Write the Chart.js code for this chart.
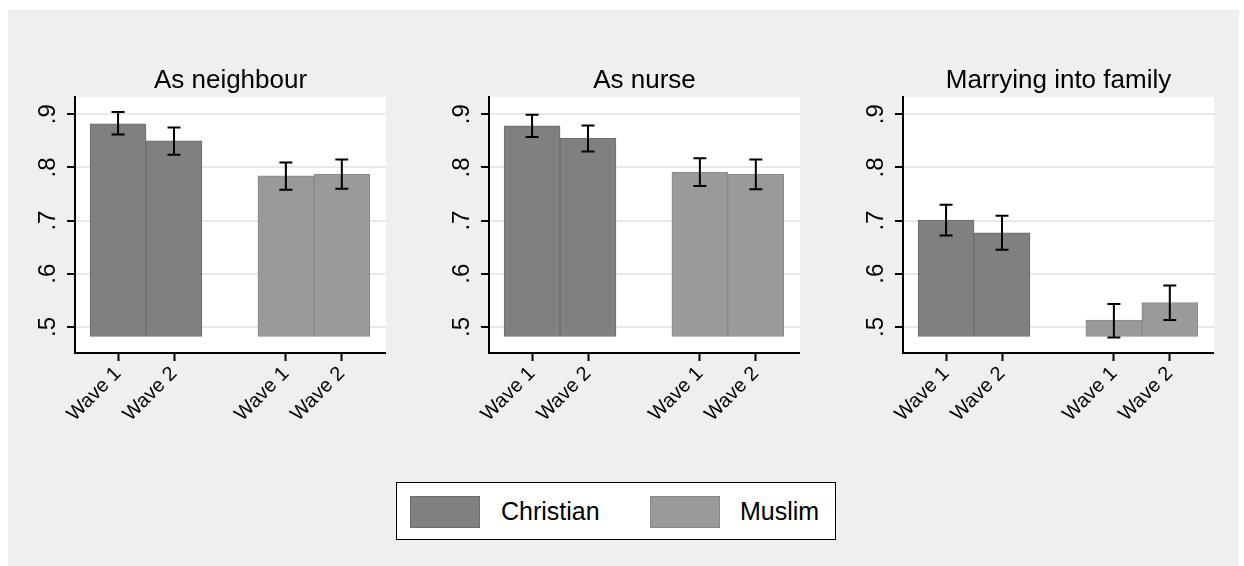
<!DOCTYPE html>
<html>
<head>
<meta charset="utf-8">
<script src="https://cdn.jsdelivr.net/npm/chart.js@4.4.1/dist/chart.umd.min.js"></script>
<style>
  body { margin: 0; background: #ffffff; width: 1244px; height: 566px; overflow: hidden; position: relative; font-family: "Liberation Sans", Arial, sans-serif; }
  #frame { position: absolute; left: 8px; top: 10px; width: 1231px; height: 556px; background: #efefef; }
  canvas.panel { position: absolute; top: 60px; }
  #legend { position: absolute; left: 396px; top: 482px; width: 438px; height: 56px; background: #fff; border: 1.5px solid #000; }
  .sw { position: absolute; top: 13px; width: 70px; height: 32px; box-sizing: border-box; }
  .lt { position: absolute; top: 12px; font-size: 25px; line-height: 32px; color: #000; }
</style>
</head>
<body>
<div id="frame"></div>
<canvas class="panel" id="p0" width="371" height="400" style="left:15px"></canvas>
<canvas class="panel" id="p1" width="371" height="400" style="left:429px"></canvas>
<canvas class="panel" id="p2" width="371" height="400" style="left:843px"></canvas>
<div id="legend">
  <div class="sw" style="left:13px;background:#808080;border:1px solid #6c6c6c"></div>
  <div class="lt" style="left:104px">Christian</div>
  <div class="sw" style="left:253px;background:#9a9a9a;border:1px solid #888"></div>
  <div class="lt" style="left:343px">Muslim</div>
</div>
<script>
// values, one entry per panel, [wave 1, wave 2]
const panelTitles = ['As neighbour', 'As nurse', 'Marrying into family'];
const waveLabels = ['Wave 1', 'Wave 2'];
const christianX = [1, 2];
const muslimX = [4, 5];

const christianMean = [[0.882, 0.850], [0.878, 0.855], [0.701, 0.677]];
const christianLow  = [[0.862, 0.824], [0.857, 0.830], [0.672, 0.645]];
const christianHigh = [[0.904, 0.875], [0.899, 0.879], [0.730, 0.709]];

const muslimMean = [[0.784, 0.787], [0.791, 0.787], [0.513, 0.546]];
const muslimLow  = [[0.758, 0.760], [0.765, 0.759], [0.480, 0.513]];
const muslimHigh = [[0.809, 0.815], [0.817, 0.815], [0.543, 0.578]];

const yTicks = [0.5, 0.6, 0.7, 0.8, 0.9];
const yTickLabels = ['.5', '.6', '.7', '.8', '.9'];
const barBase = 0.482;

const FONT = '"Liberation Sans", Arial, sans-serif';
const xTickValues = christianX.concat(muslimX);
const xTickLabels = waveLabels.concat(waveLabels);

const plotBg = {
  id: 'plotBg',
  beforeDraw(chart) {
    const a = chart.chartArea, ctx = chart.ctx;
    ctx.save();
    ctx.fillStyle = '#ffffff';
    ctx.fillRect(a.left, a.top, a.right - a.left, a.bottom - a.top);
    ctx.restore();
  }
};

const errorBars = {
  id: 'errorBars',
  afterDatasetsDraw(chart) {
    const ctx = chart.ctx, y = chart.scales.y;
    ctx.save();
    ctx.strokeStyle = '#000';
    ctx.lineWidth = 2;
    chart.data.datasets.forEach((ds, i) => {
      chart.getDatasetMeta(i).data.forEach((bar, j) => {
        const top = y.getPixelForValue(ds.hi[j]);
        const bot = y.getPixelForValue(ds.lo[j]);
        ctx.beginPath();
        ctx.moveTo(bar.x, top); ctx.lineTo(bar.x, bot);
        ctx.moveTo(bar.x - 6.5, top); ctx.lineTo(bar.x + 6.5, top);
        ctx.moveTo(bar.x - 6.5, bot); ctx.lineTo(bar.x + 6.5, bot);
        ctx.stroke();
      });
    });
    ctx.restore();
  }
};

// stata-style vertical tick labels on the y axis
const yLabels = {
  id: 'yLabels',
  afterDraw(chart) {
    const ctx = chart.ctx, y = chart.scales.y;
    ctx.save();
    ctx.fillStyle = '#000';
    ctx.font = '24px ' + FONT;
    ctx.textAlign = 'center';
    ctx.textBaseline = 'alphabetic';
    yTicks.forEach((v, k) => {
      ctx.save();
      ctx.translate(y.right - 20, y.getPixelForValue(v));
      ctx.rotate(-Math.PI / 2);
      ctx.fillText(yTickLabels[k], 0, 0);
      ctx.restore();
    });
    ctx.restore();
  }
};

function makePanel(p) {
  const pts = (xs, vals) => xs.map((x, k) => ({ x: x, y: vals[k] }));
  return new Chart(document.getElementById('p' + p), {
    type: 'bar',
    data: {
      datasets: [
        {
          label: 'Christian',
          data: pts(christianX, christianMean[p]),
          lo: christianLow[p], hi: christianHigh[p],
          backgroundColor: '#808080',
          borderColor: '#6c6c6c'
        },
        {
          label: 'Muslim',
          data: pts(muslimX, muslimMean[p]),
          lo: muslimLow[p], hi: muslimHigh[p],
          backgroundColor: '#9a9a9a',
          borderColor: '#888888'
        }
      ]
    },
    options: {
      responsive: false,
      animation: false,
      devicePixelRatio: 1,
      layout: { padding: 0 },
      datasets: {
        bar: {
          base: barBase,
          grouped: false,
          barPercentage: 1,
          categoryPercentage: 1,
          borderWidth: 1,
          borderSkipped: false
        }
      },
      plugins: {
        legend: { display: false },
        tooltip: { enabled: false },
        title: {
          display: true,
          fullSize: false,
          text: panelTitles[p],
          color: '#000',
          font: { family: FONT, size: 26, weight: 'normal', lineHeight: 1.2 },
          padding: { top: 5, bottom: 1 }
        }
      },
      scales: {
        x: {
          type: 'linear',
          min: 0.23,
          max: 5.79,
          offset: false,
          afterBuildTicks: s => { s.ticks = xTickValues.map(v => ({ value: v })); },
          afterFit: s => { s.height = 107; },
          ticks: {
            autoSkip: false,
            minRotation: 45,
            maxRotation: 45,
            padding: 1,
            color: '#000',
            font: { family: FONT, size: 20 },
            callback: v => xTickLabels[xTickValues.indexOf(v)]
          },
          grid: { offset: false, drawOnChartArea: false, drawTicks: true, tickLength: 8, tickColor: '#000', tickWidth: 2 },
          border: { display: true, color: '#000', width: 2 }
        },
        y: {
          type: 'linear',
          min: 0.451,
          max: 0.932,
          afterBuildTicks: s => { s.ticks = yTicks.map(v => ({ value: v })); },
          afterFit: s => { s.width = 60; },
          ticks: { display: false },
          grid: { color: '#e8e8e8', lineWidth: 2, drawTicks: true, tickLength: 8, tickColor: '#000', tickWidth: 2 },
          border: { display: true, color: '#000', width: 2 }
        }
      }
    },
    plugins: [plotBg, errorBars, yLabels]
  });
}

[0, 1, 2].forEach(makePanel);
</script>
</body>
</html>
